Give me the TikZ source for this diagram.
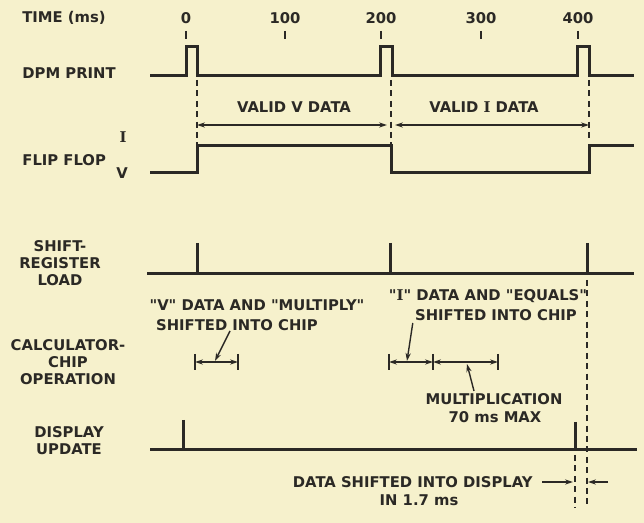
\documentclass[tikz,border=0pt]{standalone}
\usepackage{fontspec}
\setmainfont{DejaVu Sans}
\newfontfamily\romI{DejaVu Serif}
\usepackage{tikz}
\usetikzlibrary{positioning, arrows.meta}
\definecolor{tInk}{HTML}{2B2925}
\definecolor{tPaper}{HTML}{F6F1CC}

\newcommand{\qt}{\textquotedbl}
\newcommand{\curI}{{\romI I}}

\tikzset{
  wave/.style={line width=1.5pt, draw=tInk},
  dim/.style={line width=0.7pt, draw=tInk},
  guide/.style={line width=0.9pt, draw=tInk, dash pattern=on 3pt off 2.2pt},
  lbl/.style={font=\fontsize{7.4}{8.4}\selectfont\bfseries, text=tInk, inner sep=0pt},
}

\begin{document}
\begin{tikzpicture}[x=0.5pt, y=-0.5pt, >={Stealth[length=4pt,width=2.6pt]}]
  \fill[tPaper] (0,0) rectangle (644,523);
  \useasboundingbox (0,0) rectangle (644,523);

  % time scale
  \node[lbl, anchor=west] (time) at (22,18) {TIME (ms)};
  \foreach \t/\x in {0/186,100/285,200/381,300/481,400/578} {
    \node[lbl] (t\t) at (\x,18) {\t};
    \draw[tInk, line width=1pt] (\x,31) -- (\x,39);
  }

  % row labels
  \node[lbl, anchor=west] (dpm) at (22,73) {DPM PRINT};
  \node[lbl, anchor=west] (ff) at (22,160) {FLIP FLOP};
  \node[lbl] (ffI) at (123,137) {\curI};
  \node[lbl] (ffV) at (122,173) {V};
  \node[lbl, align=center] (srl) at (60,263) {SHIFT-\\REGISTER\\LOAD};
  \node[lbl, align=center] (calc) at (68,362) {CALCULATOR-\\CHIP\\OPERATION};
  \node[lbl, align=center] (disp) at (69,441) {DISPLAY\\UPDATE};

  % dpm print
  \draw[wave] (150,76) -- (186,76) -- (186,47) -- (197,47) -- (197,76) -- (380,76) -- (380,47)
    -- (392,47) -- (392,76) -- (577,76) -- (577,47) -- (589,47) -- (589,76) -- (634,76);

  % flip flop
  \draw[wave] (150,173) -- (197,173) -- (197,146) -- (391,146) -- (391,173) -- (589,173)
    -- (589,146) -- (634,146);
  \draw[guide] (197,80) -- (197,146);
  \draw[guide] (391,80) -- (391,146);
  \draw[guide] (589,80) -- (589,142);

  \coordinate (vA) at (197,125);
  \coordinate (vB) at (391,125);
  \coordinate (vC) at (589,125);
  \draw[dim, <->, shorten >=2pt] (vA) -- (vB);
  \draw[dim, <->, shorten <=2pt] (vB) -- (vC);
  \node[lbl] (validV) at (294,107) {VALID V DATA};
  \node[lbl] (validI) at (484,107) {VALID \curI\ DATA};

  % shift register load
  \draw[wave] (147,274) -- (634,274);
  \foreach \x in {197,390,587} \draw[wave] (\x,243) -- (\x,274);

  \node[lbl] (vdat1) at (257,305) {\qt V\qt\ DATA AND \qt MULTIPLY\qt};
  \node[lbl] (vdat2) at (237,325) {SHIFTED INTO CHIP};
  \node[lbl] (idat1) at (488,296) {\qt\curI\qt\ DATA AND \qt EQUALS\qt};
  \node[lbl] (idat2) at (496,315) {SHIFTED INTO CHIP};

  % calculator chip operation
  \foreach \x in {195,238,389,433,498} \draw[tInk, line width=0.9pt] (\x,354) -- (\x,370);
  \draw[dim, <->] (195,362) -- (238,362);
  \draw[dim, <->] (389,362) -- (433,362);
  \draw[dim, <->] (433,362) -- (498,362);
  \coordinate (cA) at (215,361);
  \coordinate (cB) at (407,361);
  \coordinate (cC) at (467,364);
  \draw[dim, ->] ([xshift=-3.5pt]vdat2.south) -- (cA);
  \draw[dim, ->] ([xshift=-1pt,yshift=-1pt]idat2.south west) -- (cB);
  \node[lbl] (mult) at (494,399) {MULTIPLICATION};
  \node[lbl] (mmax) at (495,417) {70 ms MAX};
  \draw[dim, ->] ([xshift=-10pt,yshift=1pt]mult.north) -- (cC);

  % display update
  \draw[wave] (150,450) -- (637,450);
  \draw[wave] (183,420) -- (183,450);
  \draw[wave] (575,422) -- (575,450);
  \draw[guide] (575,455) -- (575,508);
  \draw[guide] (587,280) -- (587,508);

  \node[lbl, anchor=east] (dsh) at (533,482) {DATA SHIFTED INTO DISPLAY};
  \node[lbl] (in17) at (419,500) {IN 1.7 ms};
  \coordinate (dA) at (573,482);
  \coordinate (dB) at (608,482);
  \coordinate (dC) at (588,482);
  \draw[dim, ->] ([xshift=4.5pt]dsh.east) -- (dA);
  \draw[dim, ->] (dB) -- (dC);
\end{tikzpicture}
\end{document}
